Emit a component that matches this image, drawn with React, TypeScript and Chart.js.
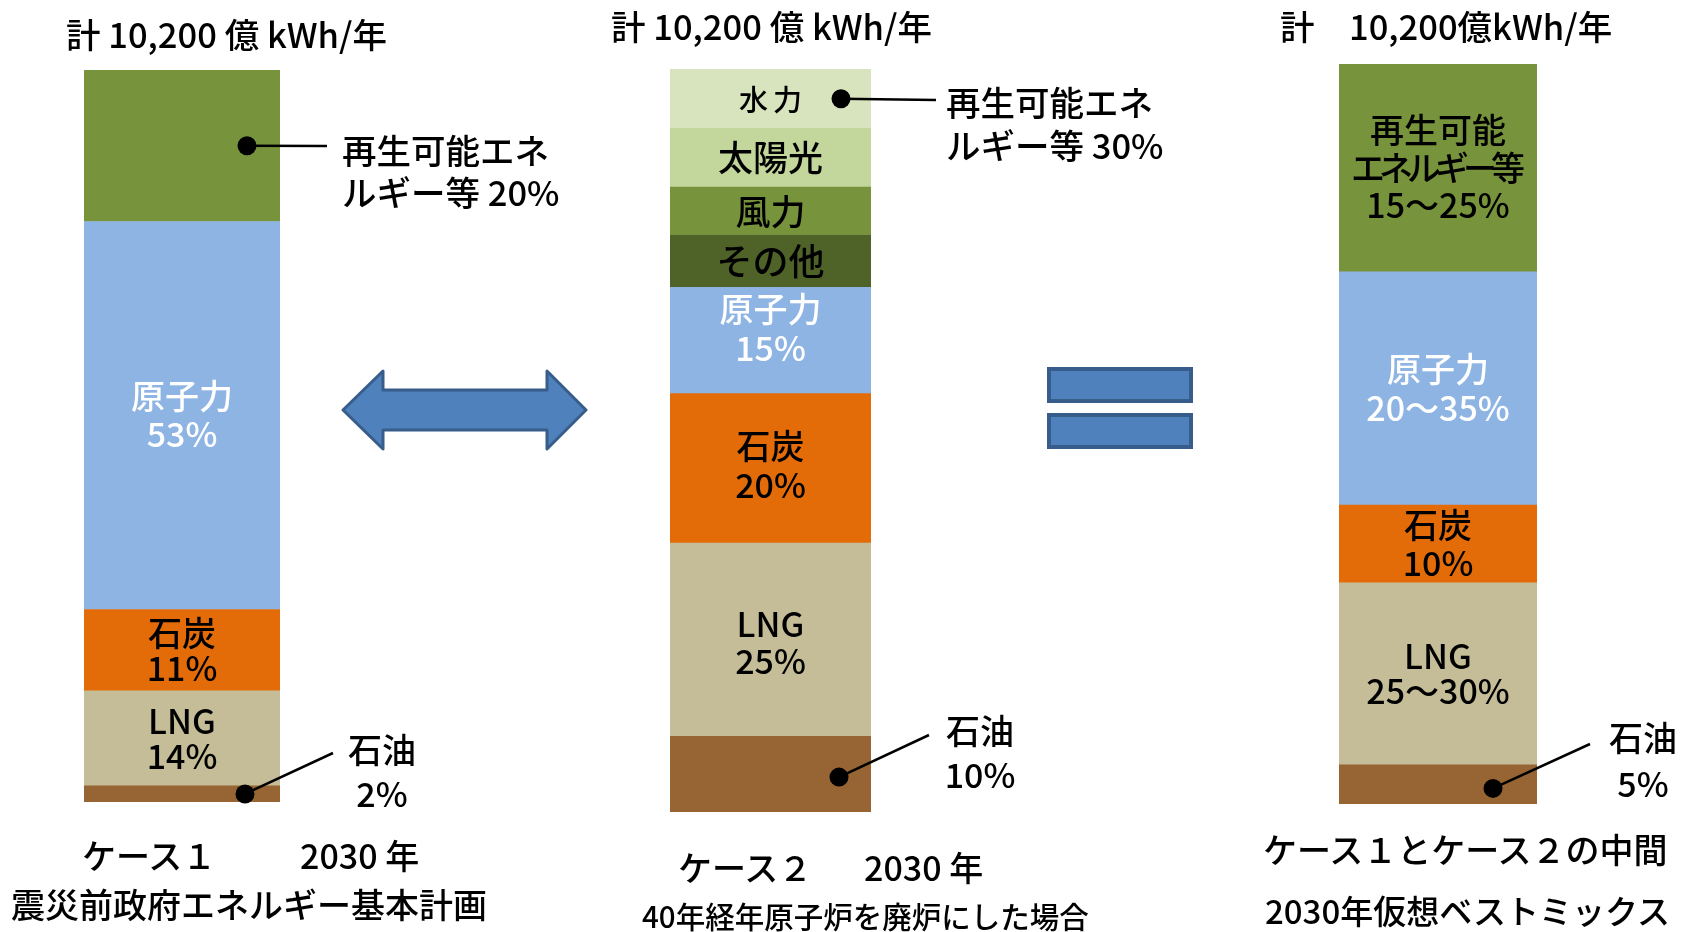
import React, { useEffect, useRef } from 'react';
import { Chart, registerables } from 'chart.js';

Chart.register(...registerables);

const FONT = '"Noto Sans CJK JP", "Noto Sans", sans-serif';
const PAGE_H = 932;
const W = 500;

// ---------- data ----------
const TOTAL = '10,200';
const caseTitles = [`計 ${TOTAL} 億 kWh/年`, `計 ${TOTAL} 億 kWh/年`, `計　${TOTAL}億kWh/年`];

// stacked bottom -> top
const case1Sources = ['石油', 'LNG', '石炭', '原子力', '再生可能エネルギー等'];
const case1Values = [2.2, 13.0, 11.1, 53.0, 20.7];
const case1Labels = ['2%', '14%', '11%', '53%', '20%'];

const case2Sources = ['石油', 'LNG', '石炭', '原子力', 'その他', '風力', '太陽光', '水力'];
const case2Values = [10.2, 26.0, 20.1, 14.3, 7.0, 6.5, 7.9, 8.0];
const case2Labels = ['10%', '25%', '20%', '15%', '', '', '', ''];
const case2RenewTotal = '30%';

const case3Sources = ['石油', 'LNG', '石炭', '原子力', '再生可能エネルギー等'];
const case3Values = [5.3, 24.6, 10.5, 31.5, 28.1];
const case3Labels = ['5%', '25〜30%', '10%', '20〜35%', '15〜25%'];

// ---------- styles ----------
const C = {
  oil: '#976533',
  lng: '#C4BD97',
  coal: '#E36C09',
  nuclear: '#8EB4E3',
  renew: '#77933C',
  hydro: '#D7E4BD',
  solar: '#C3D69B',
  wind: '#77933C',
  other: '#4F6228',
  shape: '#4F81BD',
  shapeEdge: '#385D8A',
};

type Inside = { lines: string[]; color: string; size: number; dy?: number; gap?: number; ls?: number; lineLs?: number[] };
type Callout = { dotFromRight: number; endX: number; endY: number; dotDy?: number };
type Spec = {
  category: string;
  canvasLeft: number; canvasWidth: number;
  barLeft: number; barWidth: number; top: number; bottom: number;
  sources: string[]; values: number[]; colors: string[];
  inside: (Inside | null)[]; callouts: (Callout | null)[];
};

const specs: Spec[] = [
  {
    category: 'ケース１',
    canvasLeft: 0, canvasWidth: 600, barLeft: 84, barWidth: 196, top: 70, bottom: 802,
    sources: case1Sources, values: case1Values,
    colors: [C.oil, C.lng, C.coal, C.nuclear, C.renew],
    inside: [
      null,
      { lines: [case1Sources[1], case1Labels[1]], color: '#000', size: 34, gap: 35 },
      { lines: [case1Sources[2], case1Labels[2]], color: '#000', size: 34, gap: 35 },
      { lines: [case1Sources[3], case1Labels[3]], color: '#fff', size: 34, gap: 38 },
      null,
    ],
    callouts: [
      { dotFromRight: 35, endX: 333, endY: 753 },
      null, null, null,
      { dotFromRight: 33, endX: 327, endY: 146 },
    ],
  },
  {
    category: 'ケース２',
    canvasLeft: 600, canvasWidth: 440, barLeft: 670, barWidth: 201, top: 69, bottom: 812,
    sources: case2Sources, values: case2Values,
    colors: [C.oil, C.lng, C.coal, C.nuclear, C.other, C.wind, C.solar, C.hydro],
    inside: [
      null,
      { lines: [case2Sources[1], case2Labels[1]], color: '#000', size: 34, gap: 37, dy: 3 },
      { lines: [case2Sources[2], case2Labels[2]], color: '#000', size: 34, gap: 39, dy: -3 },
      { lines: [case2Sources[3], case2Labels[3]], color: '#fff', size: 34, gap: 39, dy: -12 },
      { lines: [case2Sources[4]], color: '#000', size: 36 },
      { lines: [case2Sources[5]], color: '#000', size: 35 },
      { lines: [case2Sources[6]], color: '#000', size: 35 },
      { lines: [case2Sources[7]], color: '#000', size: 29, ls: 5, dy: 1 },
    ],
    callouts: [
      { dotFromRight: 32, endX: 929, endY: 735, dotDy: 3 },
      null, null, null, null, null, null,
      { dotFromRight: 30, endX: 936, endY: 100 },
    ],
  },
  {
    category: 'ベストミックス',
    canvasLeft: 1240, canvasWidth: 441, barLeft: 1339, barWidth: 198, top: 64, bottom: 804,
    sources: case3Sources, values: case3Values,
    colors: [C.oil, C.lng, C.coal, C.nuclear, C.renew],
    inside: [
      null,
      { lines: [case3Sources[1], case3Labels[1]], color: '#000', size: 34, gap: 35 },
      { lines: [case3Sources[2], case3Labels[2]], color: '#000', size: 34, gap: 38 },
      { lines: [case3Sources[3], case3Labels[3]], color: '#fff', size: 34, gap: 39 },
      { lines: ['再生可能', 'エネルギー等', case3Labels[4]], color: '#000', size: 34, gap: 37.5, lineLs: [0, -6, 0] },
    ],
    callouts: [
      { dotFromRight: 44, endX: 1590, endY: 744, dotDy: 4 },
      null, null, null, null,
    ],
  },
];

function makeLabelPlugin(spec: Spec) {
  return {
    id: 'segLabels',
    afterDatasetsDraw(chart: any) {
      const ctx: CanvasRenderingContext2D = chart.ctx;
      chart.data.datasets.forEach((_ds: any, i: number) => {
        const meta = chart.getDatasetMeta(i);
        const el: any = meta.data[0];
        if (!el) return;
        const p = el.getProps(['x', 'y', 'base', 'width'], true);
        const top = Math.min(p.y, p.base);
        const bottom = Math.max(p.y, p.base);
        const cy = (top + bottom) / 2;
        const right = p.x + p.width / 2;
        const ins = spec.inside[i];
        if (ins) {
          const gap = ins.gap ?? 36;
          const n = ins.lines.length;
          ins.lines.forEach((t, k) => {
            const ls = ins.lineLs ? ins.lineLs[k] : ins.ls ?? 0;
            ctx.save();
            ctx.fillStyle = ins.color;
            ctx.font = `${W} ${ins.size}px ${FONT}`;
            ctx.textAlign = 'center';
            ctx.textBaseline = 'middle';
            (ctx as any).letterSpacing = `${ls}px`;
            const ly = cy + (ins.dy ?? 0) + (k - (n - 1) / 2) * gap;
            ctx.fillText(t, p.x + ls / 2, ly);
            ctx.restore();
          });
        }
        const co = spec.callouts[i];
        if (co) {
          const dx = right - co.dotFromRight;
          const dy = cy + (co.dotDy ?? 0);
          ctx.save();
          ctx.strokeStyle = '#000';
          ctx.lineWidth = 2.5;
          ctx.beginPath();
          ctx.moveTo(dx, dy);
          ctx.lineTo(co.endX - spec.canvasLeft, co.endY);
          ctx.stroke();
          ctx.fillStyle = '#000';
          ctx.beginPath();
          ctx.arc(dx, dy, 9.5, 0, Math.PI * 2);
          ctx.fill();
          ctx.restore();
        }
      });
    },
  };
}

function StackedBar({ spec }: { spec: Spec }) {
  const ref = useRef<HTMLCanvasElement>(null);
  useEffect(() => {
    if (!ref.current) return;
    const chart = new Chart(ref.current, {
      type: 'bar',
      data: {
        labels: [spec.category],
        datasets: spec.sources.map((s, i) => ({
          label: s,
          data: [spec.values[i]],
          backgroundColor: spec.colors[i],
          borderWidth: 0,
          barPercentage: 1,
          categoryPercentage: 1,
          stack: 'mix',
        })),
      },
      options: {
        responsive: false,
        animation: false,
        events: [],
        layout: {
          padding: {
            left: spec.barLeft - spec.canvasLeft,
            right: spec.canvasLeft + spec.canvasWidth - spec.barLeft - spec.barWidth,
            top: spec.top,
            bottom: PAGE_H - spec.bottom,
          },
        },
        scales: {
          x: { stacked: true, display: false },
          y: { stacked: true, display: false, min: 0, max: 100 },
        },
        plugins: { legend: { display: false }, tooltip: { enabled: false } },
      },
      plugins: [makeLabelPlugin(spec)],
    } as any);
    return () => chart.destroy();
  }, [spec]);
  return (
    <canvas
      ref={ref}
      width={spec.canvasWidth}
      height={PAGE_H}
      style={{ position: 'absolute', left: spec.canvasLeft, top: 0, width: spec.canvasWidth, height: PAGE_H }}
    />
  );
}

function Txt(props: { x: number; cy: number; size: number; align?: 'left' | 'center'; children: React.ReactNode }) {
  const { x, cy, size, align = 'left', children } = props;
  const lh = Math.round(size * 1.3);
  const style: React.CSSProperties = {
    position: 'absolute',
    top: cy - lh / 2 + 1,
    height: lh,
    lineHeight: `${lh}px`,
    fontSize: size,
    fontFamily: FONT,
    fontWeight: W,
    color: '#000',
    whiteSpace: 'nowrap',
  };
  if (align === 'center') {
    style.left = x - 200;
    style.width = 400;
    style.textAlign = 'center';
  } else {
    style.left = x;
  }
  return <div style={style}>{children}</div>;
}

export default function App() {
  return (
    <div style={{ position: 'absolute', left: 0, top: 0, width: 1681, height: PAGE_H, overflow: 'hidden', background: '#fff' }}>
      {specs.map((s) => (
        <StackedBar key={s.category} spec={s} />
      ))}

      {/* totals */}
      <Txt x={66} cy={32} size={34.5}>{caseTitles[0]}</Txt>
      <Txt x={611} cy={24} size={34.5}>{caseTitles[1]}</Txt>
      <Txt x={1280} cy={24} size={34.5}>{caseTitles[2]}</Txt>

      {/* callout texts */}
      <Txt x={342} cy={148} size={34.5}>再生可能エネ</Txt>
      <Txt x={342} cy={190} size={34.5}>{`ルギー等 ${case1Labels[4]}`}</Txt>
      <Txt x={382} cy={748} size={34} align="center">{case1Sources[0]}</Txt>
      <Txt x={382} cy={792} size={34} align="center">{case1Labels[0]}</Txt>

      <Txt x={946} cy={100} size={34.5}>再生可能エネ</Txt>
      <Txt x={946} cy={143} size={34.5}>{`ルギー等 ${case2RenewTotal}`}</Txt>
      <Txt x={980} cy={729} size={34} align="center">{case2Sources[0]}</Txt>
      <Txt x={980} cy={773} size={34} align="center">{case2Labels[0]}</Txt>

      <Txt x={1643} cy={736} size={34} align="center">{case3Sources[0]}</Txt>
      <Txt x={1643} cy={782} size={34} align="center">{case3Labels[0]}</Txt>

      {/* captions */}
      <Txt x={82} cy={854} size={34}>ケース１</Txt>
      <Txt x={300} cy={854} size={34}>2030 年</Txt>
      <Txt x={11} cy={903} size={34}>震災前政府エネルギー基本計画</Txt>

      <Txt x={678} cy={866} size={34}>ケース２</Txt>
      <Txt x={864} cy={866} size={34}>2030 年</Txt>
      <Txt x={642} cy={914} size={29.5}>40年経年原子炉を廃炉にした場合</Txt>

      <Txt x={1263} cy={848} size={34}>ケース１とケース２の中間</Txt>
      <Txt x={1265} cy={909} size={33}>2030年仮想ベストミックス</Txt>

      {/* decorative shapes */}
      <svg width={1681} height={PAGE_H} style={{ position: 'absolute', left: 0, top: 0, pointerEvents: 'none' }}>
        <polygon
          points="343,410 383,371 383,390 547,390 547,371 586,410 547,449 547,430 383,430 383,449"
          fill={C.shape}
          stroke={C.shapeEdge}
          strokeWidth={3}
          strokeLinejoin="round"
        />
        <rect x={1049} y={369} width={142} height={32} fill={C.shape} stroke={C.shapeEdge} strokeWidth={4} />
        <rect x={1049} y={415} width={142} height={32} fill={C.shape} stroke={C.shapeEdge} strokeWidth={4} />
      </svg>
    </div>
  );
}
